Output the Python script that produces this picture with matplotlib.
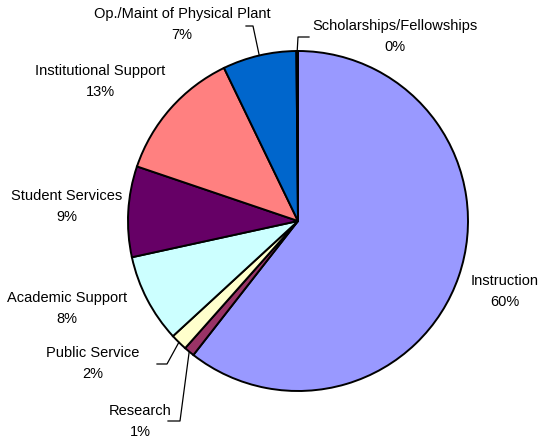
import numpy as np
import matplotlib.pyplot as plt

plt.rcParams['font.family'] = ['Liberation Sans', 'DejaVu Sans']

# expense categories, clockwise from 12 o'clock
categories = ['Instruction', 'Research', 'Public Service', 'Academic Support',
              'Student Services', 'Institutional Support',
              'Op./Maint of Physical Plant', 'Scholarships/Fellowships']
shares = [60.4, 1.0, 1.6, 8.4, 8.6, 12.6, 7.0, 0.15]
colors = ['#9999FF', '#993366', '#FFFFCC', '#CCFFFF',
          '#660066', '#FF8080', '#0066CC', '#CCCCFF']

# where each label sits (pixels) and optional leader elbow
label_pos = {
    'Instruction': (505, 281),
    'Research': (140, 411),
    'Public Service': (93, 353),
    'Academic Support': (67, 298),
    'Student Services': (67, 196),
    'Institutional Support': (100, 71),
    'Op./Maint of Physical Plant': (182, 14),
    'Scholarships/Fellowships': (395, 26),
}
leaders = {
    'Research': [(180, 422), (168, 422)],
    'Public Service': [(167, 365), (157, 365)],
    'Op./Maint of Physical Plant': [(253, 27), (246, 27)],
    'Scholarships/Fellowships': [(298, 38), (309, 38)],
}

W, H = 541, 439
fig = plt.figure(figsize=(W / 100, H / 100), dpi=100)
ax = fig.add_axes([0, 0, 1, 1])

cx, cy, r = 298, 222, 170
# y axis is inverted, so counterclock=True draws clockwise on screen
wedges, _ = ax.pie(shares, colors=colors, startangle=-90, counterclock=True,
                   center=(cx, cy), radius=r, frame=True,
                   wedgeprops=dict(edgecolor='black', linewidth=1.4))
ax.set_xlim(0, W)
ax.set_ylim(H, 0)
ax.set_aspect('equal')
ax.axis('off')

for name, val, w in zip(categories, shares, wedges):
    tx, ty = label_pos[name]
    ax.text(tx, ty, name, ha='center', va='center', fontsize=10.5)
    ax.text(tx, ty + 21, f'{round(val):.0f}%', ha='center', va='center', fontsize=10.5)
    if name in leaders:
        mid = np.deg2rad((w.theta1 + w.theta2) / 2)
        ex, ey = cx + r * np.cos(mid), cy + r * np.sin(mid)
        pts = [(ex, ey)] + leaders[name]
        xs, ys = zip(*pts)
        ax.plot(xs, ys, color='black', linewidth=0.9)

fig.savefig('out.png', dpi=100)
